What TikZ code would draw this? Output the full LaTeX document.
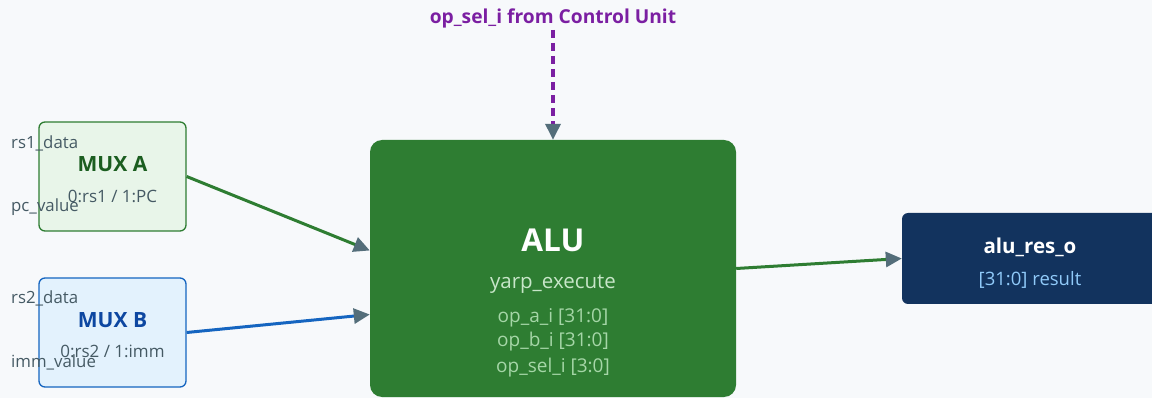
\documentclass[tikz,border=0pt]{standalone}
\usepackage{fontspec}
\setmainfont{Open Sans}
\usetikzlibrary{arrows.meta}
\definecolor{bgc}{HTML}{F7F9FB}
\definecolor{gdark}{HTML}{2E7D32}
\definecolor{gtitle}{HTML}{1B5E20}
\definecolor{gfill}{HTML}{E8F5E9}
\definecolor{bdark}{HTML}{1565C0}
\definecolor{btitle}{HTML}{0D47A1}
\definecolor{bfill}{HTML}{E3F2FD}
\definecolor{navy}{HTML}{12335E}
\definecolor{ltblue}{HTML}{90CAF9}
\definecolor{txtgray}{HTML}{455A64}
\definecolor{headgray}{HTML}{546E7A}
\definecolor{purp}{HTML}{7B1FA2}
\definecolor{ltgreen}{HTML}{C8E6C9}
\definecolor{mdgreen}{HTML}{A5D6A7}
\tikzset{
  muxbox/.style={rectangle, rounded corners=6pt, line width=1.3pt, minimum width=147pt, minimum height=109pt, inner sep=0pt},
  portlbl/.style={font=\fontsize{16.8}{20}\selectfont, text=txtgray, anchor=west, inner sep=0pt},
  muxtitle/.style={font=\bfseries\fontsize{21}{24}\selectfont},
  muxsub/.style={font=\fontsize{17}{20}\selectfont, text=txtgray},
  aluport/.style={font=\fontsize{19}{22}\selectfont, text=mdgreen},
  wire/.style={line width=3pt, -{Triangle[length=16pt,width=15pt,color=headgray]}},
}
\begin{document}
\begin{tikzpicture}[x=1pt,y=-1pt]
\fill[bgc] (0,0) rectangle (1152,398);
\useasboundingbox (0,0) rectangle (1152,398);

% multiplexers
\node[muxbox, draw=gdark, fill=gfill] (muxa) at (112.5,176.5) {};
\node[muxtitle, text=gtitle] (muxat) at (112.5,164) {MUX A};
\node[muxsub] (muxas) at (112.5,196) {0:rs1 / 1:PC};
\node[portlbl] (rs1) at (11,143) {rs1\_data};
\node[portlbl] (pcv) at (11,207) {pc\_value};

\node[muxbox, draw=bdark, fill=bfill] (muxb) at (112.5,332.5) {};
\node[muxtitle, text=btitle] (muxbt) at (112.5,320) {MUX B};
\node[muxsub] (muxbs) at (112.5,351) {0:rs2 / 1:imm};
\node[portlbl] (rs2) at (11,298) {rs2\_data};
\node[portlbl] (immv) at (11,362) {imm\_value};

% ALU
\node[rectangle, rounded corners=12pt, fill=gdark, minimum width=366pt, minimum height=257pt, inner sep=0pt] (alu) at (553,268.5) {};
\node[font=\bfseries\fontsize{31.5}{36}\selectfont, text=white] (alut) at (553,240) {ALU};
\node[font=\fontsize{20.5}{24}\selectfont, text=ltgreen] (alus) at (553,284) {yarp\_execute};
\node[aluport] (p1) at (553,318) {op\_a\_i [31:0]};
\node[aluport] (p2) at (553,342) {op\_b\_i [31:0]};
\node[aluport] (p3) at (553,368) {op\_sel\_i [3:0]};

% result
\node[rectangle, rounded corners=6pt, fill=navy, minimum width=256pt, minimum height=91pt, inner sep=0pt] (res) at (1030,258.5) {};
\node[font=\bfseries\fontsize{20.5}{24}\selectfont, text=white] (rest) at (1030,247) {alu\_res\_o};
\node[font=\fontsize{18.5}{22}\selectfont, text=ltblue] (ress) at (1030,280) {[31:0] result};

% control input
\node[font=\bfseries\fontsize{19.2}{22}\selectfont, text=purp] (ctl) at (553,18) {op\_sel\_i from Control Unit};
\coordinate (ctlend) at (553,30);

% connections
\draw[wire, draw=gdark] (muxa.east) -- ([yshift=18pt]alu.west);
\draw[wire, draw=bdark] (muxb.east) -- ([yshift=-46pt]alu.west);
\draw[wire, draw=gdark] (alu.east) -- (res.west);
\draw[wire, draw=purp, line width=3.5pt, dash pattern=on 8pt off 5pt] (ctlend) -- (alu.north);
\end{tikzpicture}
\end{document}
